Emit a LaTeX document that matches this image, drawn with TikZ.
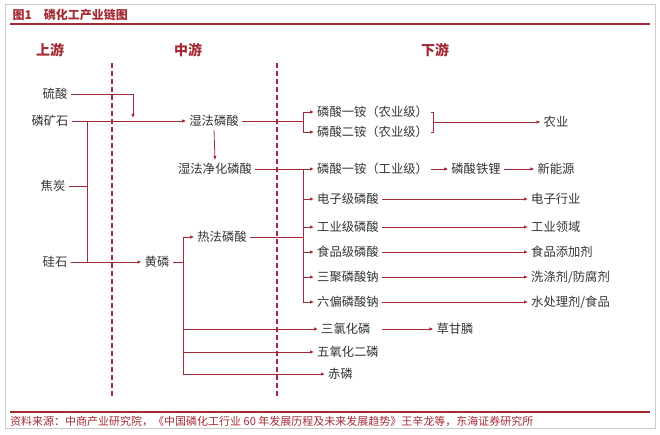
\documentclass[tikz,border=0pt]{standalone}
\usepackage{fontspec}
\setmainfont{Noto Sans CJK SC}
\usetikzlibrary{arrows.meta}
\definecolor{rl}{HTML}{A52A35}
\definecolor{tx}{HTML}{333333}
\begin{document}
\begin{tikzpicture}[x=1pt,y=-1pt,
  lbl/.style={text=tx,font=\fontsize{12.3}{13}\selectfont,inner sep=3pt},
  hdr/.style={text=rl,font=\fontsize{14}{15}\selectfont\bfseries},
  ln/.style={draw=rl,line width=0.8pt},
  ar/.style={ln,-{Latex[length=4pt,width=3.5pt]}},
  dsh/.style={draw=rl,line width=1.3pt,dash pattern=on 5pt off 3pt}]
\useasboundingbox (0,0) rectangle (660,435);
\draw[gray!40,line width=1pt] (5,5) rectangle (655,428);
\node[anchor=west,text=rl,font=\fontsize{12}{13}\selectfont\bfseries] (title) at (9,15) {图1\quad 磷化工产业链图};
\draw[rl,line width=1.2pt] (10,24) -- (650,24);
\node[hdr] (h1) at (50,50) {上游};
\node[hdr] (h2) at (188,50) {中游};
\node[hdr] (h3) at (435,50) {下游};
\coordinate (d1a) at (112,63); \coordinate (d1b) at (112,396);
\coordinate (d2a) at (277,63); \coordinate (d2b) at (277,396);
\draw[dsh] (d1a) -- (d1b); \draw[dsh] (d2a) -- (d2b);
% upstream
\node[lbl] (ls) at (55,94) {硫酸};
\node[lbl] (lk) at (50,121) {磷矿石};
\node[lbl] (jt) at (53,186) {焦炭};
\node[lbl] (gs) at (55,262) {硅石};
% mid
\node[lbl] (sf) at (214,121) {湿法磷酸};
\node[lbl] (jh) at (215,169) {湿法净化磷酸};
\node[lbl] (hl) at (157,262) {黄磷};
\node[lbl] (rf) at (222,237) {热法磷酸};
\coordinate (j1) at (133,118);
\draw[ln] (ls.east) -- (133,94);
\draw[ar] (133,94) -- (j1);
\draw[ar] (lk.east) -- (sf.west);
\draw[ln] (87,121) -- (87,262);
\draw[ln] (jt.east) -- (87,186);
\draw[ar] (gs.east) -- (hl.west);
\draw[ar] (sf.south) -- (jh.north);
% downstream nodes
\node[lbl,anchor=west] (a1) at (314,112) {磷酸一铵（农业级）};
\node[lbl,anchor=west] (a2) at (314,132) {磷酸二铵（农业级）};
\node[lbl] (ny) at (556,122) {农业};
\node[lbl,anchor=west] (a3) at (314,169) {磷酸一铵（工业级）};
\node[lbl] (lt) at (476,169) {磷酸铁锂};
\node[lbl] (xn) at (556,169) {新能源};
\node[lbl,anchor=west] (b1) at (314,199) {电子级磷酸};
\node[lbl,anchor=west] (b2) at (314,227) {工业级磷酸};
\node[lbl,anchor=west] (b3) at (314,252) {食品级磷酸};
\node[lbl,anchor=west] (b4) at (314,277) {三聚磷酸钠};
\node[lbl,anchor=west] (b5) at (314,302) {六偏磷酸钠};
\node[lbl,anchor=west] (c1) at (528,199) {电子行业};
\node[lbl,anchor=west] (c2) at (528,227) {工业领域};
\node[lbl,anchor=west] (c3) at (528,252) {食品添加剂};
\node[lbl,anchor=west] (c4) at (528,277) {洗涤剂/防腐剂};
\node[lbl,anchor=west] (c5) at (528,302) {水处理剂/食品};
\node[lbl,anchor=west] (e1) at (318,329) {三氯化磷};
\node[lbl] (cg) at (455,329) {草甘膦};
\node[lbl,anchor=west] (e2) at (314,352) {五氧化二磷};
\node[lbl,anchor=west] (e3) at (325,374) {赤磷};
% wet acid branches
\draw[ln] (sf.east) -- (303,121);
\draw[ln] (303,112) -- (303,132);
\draw[ar] (303,112) -- (a1.west);
\draw[ar] (303,132) -- (a2.west);
\draw[ln] (a1.east) -- (433,112) -- (433,132) -- (a2.east);
\draw[ar] (433,122) -- (ny.west);
\draw[ar] (jh.east) -- (a3.west);
\draw[ar] (a3.east) -- (lt.west);
\draw[ar] (lt.east) -- (xn.west);
\draw[ln] (303,169) -- (303,302);
\draw[ln] (rf.east) -- (303,237);
\foreach \b/\c in {b1/c1,b2/c2,b3/c3,b4/c4,b5/c5}{
  \draw[ar] (303,0 |- \b.west) -- (\b.west);
  \draw[ar] (\b.east) -- (\c.west);
}
% yellow phosphorus
\draw[ln] (hl.east) -- (183,262);
\draw[ln] (183,237) -- (183,374);
\draw[ar] (183,237) -- (rf.west);
\draw[ar] (183,329) -- (e1.west);
\draw[ar] (183,352) -- (e2.west);
\draw[ar] (183,374) -- (e3.west);
\draw[ar] (e1.east) ++(8,0) -- (cg.west);
\draw[rl,line width=1.2pt] (10,412) -- (650,412);
\node[anchor=west,text=rl,font=\fontsize{11}{12}\selectfont,inner sep=0pt] (src) at (10,421) {资料来源：中商产业研究院，《中国磷化工行业 60 年发展历程及未来发展趋势》王辛龙等，东海证券研究所};
\end{tikzpicture}
\end{document}
